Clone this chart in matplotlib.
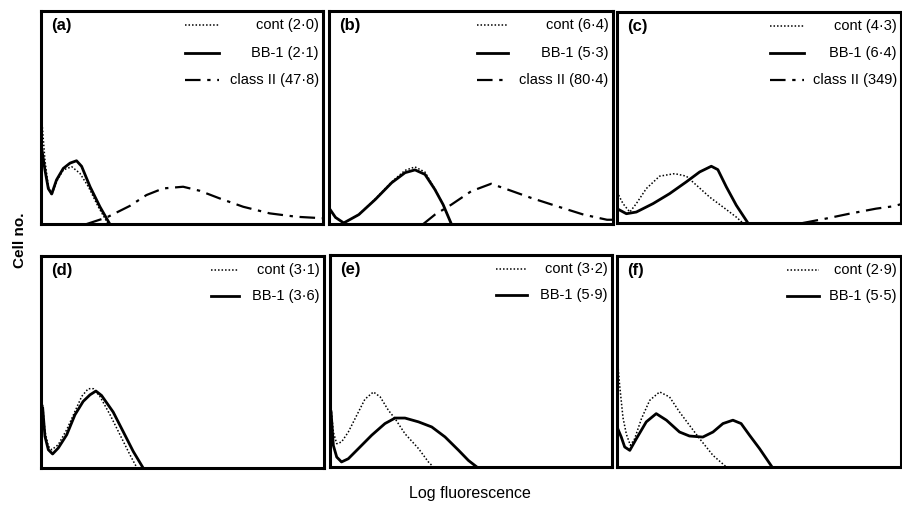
import matplotlib.pyplot as plt

plt.rcParams['font.family'] = ['Liberation Sans', 'DejaVu Sans']

# x = channel position (0-100 across the panel), y = relative cell number (0-100)
a_cont_x = [0.2, 1.4, 2.6, 3.8, 5.5, 7.9, 10.9, 13.8, 16.8, 20.3, 23.8]
a_cont_y = [50.4, 30.0, 17.5, 13.6, 19.9, 25.4, 26.9, 23.8, 17.5, 8.1, 0]
a_bb1_x = [0.2, 1.4, 2.6, 3.8, 5.5, 7.9, 10.3, 12.6, 14.4, 17.4, 20.9, 24.4]
a_bb1_y = [36.0, 25.4, 16.6, 14.1, 20.7, 26.1, 28.6, 29.7, 27.1, 17.5, 8.1, 0]
a_cls_x = [16.2, 23.3, 31.5, 37.4, 43.3, 50.4, 56.3, 63.4, 71.7, 81.1, 90.6, 100]
a_cls_y = [0, 3.1, 8.5, 13.6, 16.7, 17.5, 15.6, 12.0, 8.1, 5.0, 3.4, 2.7]

b_cont_x = [0, 2.3, 5.2, 10.5, 16.3, 22.1, 26.8, 30.3, 33.8, 37.3, 40.2, 43.1]
b_cont_y = [7.0, 3.0, 0.5, 4.4, 11.8, 19.8, 25.2, 26.8, 24.4, 16.5, 9.1, 0]
b_bb1_x = [0, 2.3, 5.2, 10.5, 16.3, 22.1, 26.8, 30.3, 33.8, 37.3, 40.2, 43.1]
b_bb1_y = [7.6, 3.1, 0.5, 4.4, 11.5, 19.4, 24.1, 25.4, 23.3, 16.2, 9.1, 0]
b_cls_x = [33.2, 37.3, 43.1, 50.1, 57.1, 62.9, 71.1, 80.4, 89.7, 97.9, 100]
b_cls_y = [0, 4.4, 9.1, 15.4, 18.9, 16.2, 12.3, 8.3, 4.4, 2.0, 2.0]

c_cont_x = [0, 2.1, 4.5, 6.8, 10.3, 15.0, 20.3, 24.4, 27.9, 32.6, 37.3, 42.0, 44.3]
c_cont_y = [14.7, 9.2, 5.2, 9.2, 16.3, 22.2, 23.4, 22.2, 18.0, 12.3, 7.6, 2.8, 0]
c_bb1_x = [0, 3.3, 6.8, 12.7, 18.5, 24.4, 29.1, 33.2, 35.5, 38.5, 42.0, 46.1]
c_bb1_y = [6.8, 4.4, 5.2, 9.2, 13.9, 19.5, 24.2, 26.9, 25.3, 17.1, 8.4, 0]
c_cls_x = [65.4, 73.6, 81.8, 91.2, 97.1, 100]
c_cls_y = [0, 2.1, 4.4, 6.8, 7.9, 8.9]

d_cont_x = [0.6, 1.4, 2.6, 3.8, 6.1, 9.1, 12.0, 14.4, 16.7, 18.5, 20.8, 24.4, 27.9, 31.4, 33.8]
d_cont_y = [29.8, 17.3, 10.2, 8.6, 11.0, 18.1, 26.7, 33.8, 37.4, 37.4, 33.8, 25.1, 15.7, 6.3, 0.3]
d_bb1_x = [0.6, 1.4, 2.6, 4.1, 6.1, 9.1, 12.0, 14.9, 17.3, 19.4, 21.4, 25.5, 29.1, 32.6, 36.1]
d_bb1_y = [28.3, 14.9, 8.6, 6.6, 9.4, 15.7, 25.1, 31.4, 34.5, 36.3, 34.2, 26.4, 17.0, 7.8, 0]

e_cont_x = [0.4, 1.2, 2.4, 4.1, 6.5, 9.5, 12.4, 15.4, 17.8, 20.7, 23.1, 26.6, 31.4, 34.9, 36.7]
e_cont_y = [27.6, 16.5, 11.0, 11.8, 16.5, 24.4, 32.0, 35.4, 33.1, 26.8, 22.8, 15.7, 8.7, 2.4, 0]
e_bb1_x = [0.4, 1.2, 2.4, 4.1, 6.5, 10.1, 14.8, 19.5, 23.1, 26.6, 31.4, 36.1, 40.8, 45.6, 49.1, 52.1]
e_bb1_y = [26.0, 10.2, 4.7, 2.4, 3.9, 8.7, 15.0, 20.5, 23.1, 23.1, 21.3, 18.9, 14.2, 7.9, 3.1, 0]

f_cont_x = [0, 0.9, 2.1, 3.3, 4.7, 6.2, 8.6, 11.5, 15.0, 18.5, 22.0, 25.5, 29.1, 33.8, 38.5]
f_cont_y = [53.2, 39.1, 23.4, 15.5, 10.3, 13.4, 22.9, 31.6, 35.6, 33.2, 26.1, 19.8, 13.4, 5.5, 0]
f_bb1_x = [0, 1.5, 2.7, 4.5, 6.8, 10.3, 13.8, 17.4, 22.0, 25.5, 30.2, 33.8, 37.3, 40.8, 43.7, 46.7, 50.2, 54.6]
f_bb1_y = [19.0, 14.2, 9.5, 7.9, 13.4, 21.4, 25.3, 22.2, 16.6, 14.7, 14.2, 16.6, 20.6, 22.2, 20.6, 15.0, 8.7, 0]

panel_tags = ['(a)', '(b)', '(c)', '(d)', '(e)', '(f)']
cont_labels = ['cont (2·0)', 'cont (6·4)', 'cont (4·3)', 'cont (3·1)', 'cont (3·2)', 'cont (2·9)']
bb1_labels = ['BB-1 (2·1)', 'BB-1 (5·3)', 'BB-1 (6·4)', 'BB-1 (3·6)', 'BB-1 (5·9)', 'BB-1 (5·5)']
cls_labels = ['class II (47·8)', 'class II (80·4)', 'class II (349)', None, None, None]

curves = [
    ((a_cont_x, a_cont_y), (a_bb1_x, a_bb1_y), (a_cls_x, a_cls_y)),
    ((b_cont_x, b_cont_y), (b_bb1_x, b_bb1_y), (b_cls_x, b_cls_y)),
    ((c_cont_x, c_cont_y), (c_bb1_x, c_bb1_y), (c_cls_x, c_cls_y)),
    ((d_cont_x, d_cont_y), (d_bb1_x, d_bb1_y), None),
    ((e_cont_x, e_cont_y), (e_bb1_x, e_bb1_y), None),
    ((f_cont_x, f_cont_y), (f_bb1_x, f_bb1_y), None),
]

boxes = [
    [0.0454, 0.5564, 0.3123, 0.4218],
    [0.3643, 0.5564, 0.3145, 0.4218],
    [0.6833, 0.5584, 0.3145, 0.4178],
    [0.0454, 0.0733, 0.3134, 0.4198],
    [0.3654, 0.0752, 0.3123, 0.4198],
    [0.6833, 0.0752, 0.3145, 0.4178],
]
# where the legend line samples start/stop in each panel
leg_x = [(0.51, 0.63), (0.52, 0.63), (0.54, 0.66), (0.60, 0.70), (0.59, 0.70), (0.60, 0.71)]

dotted = dict(color='black', lw=1.1, ls=(0, (1, 1.3)))
solid = dict(color='black', lw=2.0, ls='-')
dashdot = dict(color='black', lw=1.6, ls=(0, (7, 3, 1.5, 3)))

fig = plt.figure(figsize=(9.03, 5.05), dpi=100)

for i in range(6):
    ax = fig.add_axes(boxes[i])
    cont, bb1, cls = curves[i]
    ax.plot(cont[0], cont[1], **dotted)
    ax.plot(bb1[0], bb1[1], **solid)
    if cls is not None:
        ax.plot(cls[0], cls[1], **dashdot)
    ax.set_xlim(0, 100)
    ax.set_ylim(0, 100)
    ax.set_xticks([])
    ax.set_yticks([])
    for sp in ax.spines.values():
        sp.set_linewidth(2.2)

    ax.text(0.035, 0.93, panel_tags[i], transform=ax.transAxes, fontsize=12,
            fontweight='bold', va='center', ha='left')

    rows = [(cont_labels[i], dotted, 0.934), (bb1_labels[i], solid, 0.81)]
    if cls_labels[i] is not None:
        rows[1] = (bb1_labels[i], solid, 0.805)
        rows.append((cls_labels[i], dashdot, 0.676))
    x0, x1 = leg_x[i]
    for label, style, yy in rows:
        ax.plot([x0, x1], [yy, yy], transform=ax.transAxes, **style)
        ax.text(0.985, yy, label, transform=ax.transAxes, fontsize=10.5,
                ha='right', va='center')

fig.text(0.022, 0.525, 'Cell no.', rotation=90, fontsize=11, fontweight='bold',
         ha='center', va='center')
fig.text(0.52, 0.023, 'Log fluorescence', fontsize=11.5, ha='center', va='center')

fig.savefig('out.png', dpi=100)
